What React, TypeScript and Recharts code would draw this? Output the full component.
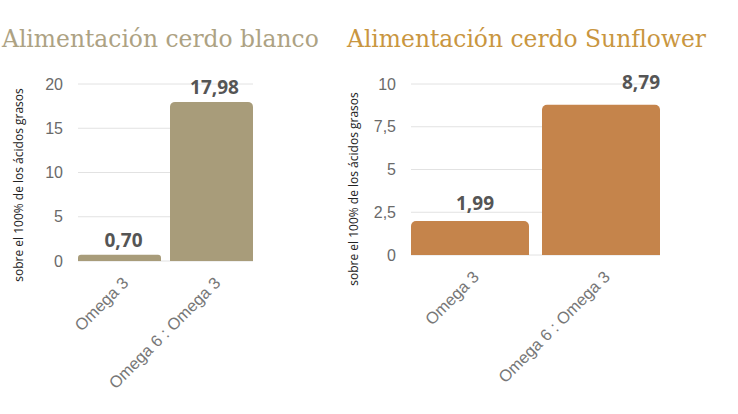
import React from 'react';
import { BarChart, Bar, XAxis, YAxis, CartesianGrid, LabelList } from 'recharts';

// categorias y valores de cada grafico
const categories = ['Omega 3', 'Omega 6 : Omega 3'];
const blancoValues = [0.7, 17.98];
const sunflowerValues = [1.99, 8.79];
const blancoTicks = [0, 5, 10, 15, 20];
const sunflowerTicks = [0, 2.5, 5, 7.5, 10];
const yAxisTitle = 'sobre el 100% de los ácidos grasos';

const fmt = (v: number) => v.toLocaleString('es-ES', { minimumFractionDigits: 2, maximumFractionDigits: 2 });
const fmtTick = (v: number) => String(v).replace('.', ',');

const XTick = (props: any) => {
  const { x, y, payload } = props;
  const tx = x + 10;
  const ty = y + 15;
  return (
    <text
      x={tx}
      y={ty}
      transform={`rotate(-45, ${tx}, ${ty})`}
      textAnchor="end"
      fontFamily="'Liberation Sans', Arial, sans-serif"
      fontSize={16.5}
      fill="#777"
    >
      {payload.value}
    </text>
  );
};

const makeValueLabel = (shift: { dx: number; dy: number }[]) => (props: any) => {
  const { x, y, width, value, index } = props;
  const s = shift[index] || { dx: 0, dy: 0 };
  return (
    <text
      x={x + width / 2 + s.dx}
      y={y - 8 + s.dy}
      textAnchor="middle"
      fontFamily="'Open Sans', sans-serif"
      fontWeight={700}
      fontSize={19}
      fill="#555"
    >
      {fmt(value)}
    </text>
  );
};

const makeYLabel = (cx: number, cy: number) => () => (
  <text
    x={cx}
    y={cy}
    transform={`rotate(-90, ${cx}, ${cy})`}
    textAnchor="middle"
    dominantBaseline="central"
    fontFamily="'Open Sans', sans-serif"
    fontSize={12}
    fill="#222"
  >
    {yAxisTitle}
  </text>
);

interface PanelProps {
  values: number[];
  ticks: number[];
  color: string;
  width: number;
  axisWidth: number;
  right: number;
  bottom: number;
  gap: number;
  yLabelPos: [number, number];
  shift: { dx: number; dy: number }[];
}

const Panel = ({ values, ticks, color, width, axisWidth, right, bottom, gap, yLabelPos, shift }: PanelProps) => {
  const data = categories.map((name, i) => ({ name, value: values[i] }));
  return (
    <BarChart
      width={width}
      height={414}
      data={data}
      margin={{ top: 84, right, left: 0, bottom }}
      barCategoryGap={gap}
    >
      <CartesianGrid vertical={false} stroke="#e2e2e2" />
      <XAxis
        dataKey="name"
        axisLine={false}
        tickLine={false}
        interval={0}
        height={100}
        padding={{ left: -gap, right: -gap }}
        tick={<XTick />}
      />
      <YAxis
        width={axisWidth}
        domain={[ticks[0], ticks[ticks.length - 1]]}
        ticks={ticks}
        axisLine={false}
        tickLine={false}
        tickMargin={9}
        tickFormatter={fmtTick}
        tick={{ fontFamily: "'Liberation Sans', Arial, sans-serif", fontSize: 16, fill: '#6a6a6a' }}
        label={{ content: makeYLabel(yLabelPos[0], yLabelPos[1]) }}
      />
      <Bar dataKey="value" fill={color} radius={[5, 5, 0, 0]} isAnimationActive={false}>
        <LabelList dataKey="value" content={makeValueLabel(shift)} />
      </Bar>
    </BarChart>
  );
};

export default function App() {
  const titleStyle: React.CSSProperties = {
    position: 'absolute',
    top: 28,
    fontFamily: "'DejaVu Serif', serif",
    fontSize: 23.4,
    lineHeight: '23px',
    whiteSpace: 'nowrap',
  };
  return (
    <div style={{ position: 'absolute', left: 0, top: 0, width: 738, height: 414, background: '#fff' }}>
      <div style={{ ...titleStyle, left: 2, color: '#ada283' }}>Alimentación cerdo blanco</div>
      <div style={{ ...titleStyle, left: 347, color: '#c9963f' }}>Alimentación cerdo Sunflower</div>
      <div style={{ position: 'absolute', left: 0, top: 0 }}>
        <Panel
          values={blancoValues}
          ticks={blancoTicks}
          color="#a89c7a"
          width={300}
          axisWidth={78}
          right={47}
          bottom={53}
          gap={4.5}
          yLabelPos={[18, 185]}
          shift={[{ dx: 4, dy: 0 }, { dx: 3, dy: 0 }]}
        />
      </div>
      <div style={{ position: 'absolute', left: 340, top: 0 }}>
        <Panel
          values={sunflowerValues}
          ticks={sunflowerTicks}
          color="#c5844b"
          width={340}
          axisWidth={71}
          right={20}
          bottom={59}
          gap={6.5}
          yLabelPos={[13, 189]}
          shift={[{ dx: 5, dy: -3 }, { dx: 40, dy: -8 }]}
        />
      </div>
    </div>
  );
}
